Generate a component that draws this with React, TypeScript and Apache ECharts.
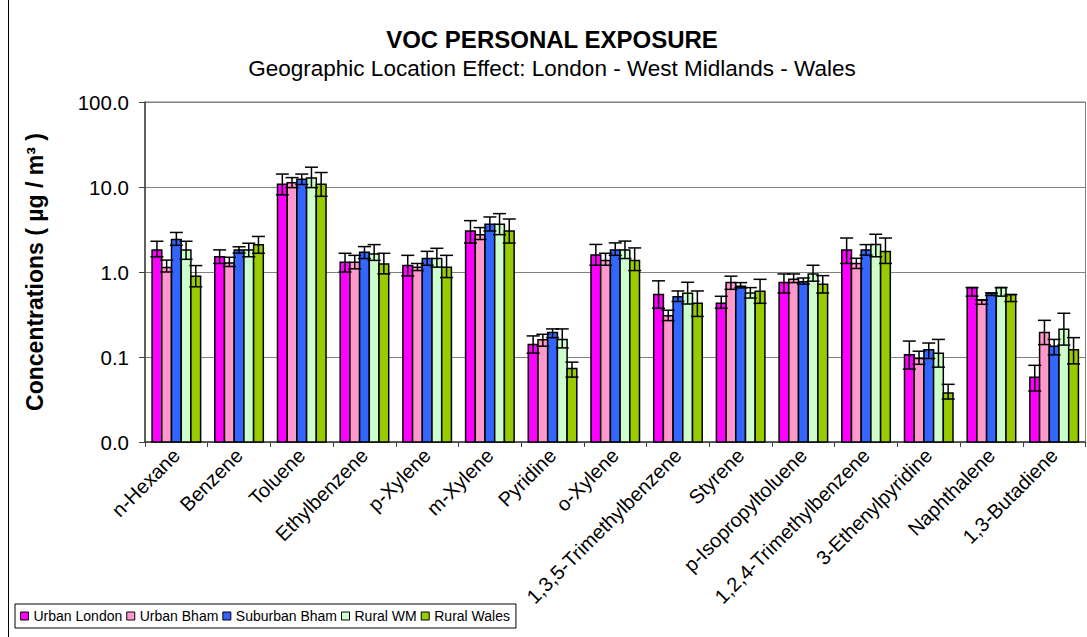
import React, { useEffect, useRef } from 'react';
import * as echarts from 'echarts';

const categories = [
  'n-Hexane', 'Benzene', 'Toluene', 'Ethylbenzene', 'p-Xylene', 'm-Xylene', 'Pyridine', 'o-Xylene',
  '1,3,5-Trimethylbenzene', 'Styrene', 'p-Isopropyltoluene', '1,2,4-Trimethylbenzene',
  '3-Ethenylpyridine', 'Naphthalene', '1,3-Butadiene',
];

const seriesNames = ['Urban London', 'Urban Bham', 'Suburban Bham', 'Rural WM', 'Rural Wales'];
const colors = ['#FF00FF', '#FF99CC', '#3366FF', '#CCFFCC', '#99CC00'];

// mean values (µg/m3)
const urbanLondon = [1.82, 1.51, 10.8, 1.30, 1.19, 3.04, 0.140, 1.58, 0.542, 0.428, 0.75, 1.81, 0.106, 0.655, 0.0577];
const urbanBham = [1.13, 1.28, 11.2, 1.30, 1.14, 2.75, 0.160, 1.37, 0.306, 0.75, 0.82, 1.26, 0.096, 0.469, 0.194];
const suburbanBham = [2.41, 1.82, 12.3, 1.71, 1.44, 3.64, 0.194, 1.81, 0.513, 0.679, 0.77, 1.81, 0.122, 0.566, 0.134];
const ruralWM = [1.82, 1.82, 12.8, 1.63, 1.44, 3.64, 0.161, 1.81, 0.561, 0.566, 0.948, 2.1, 0.111, 0.655, 0.212];
const ruralWales = [0.89, 2.09, 10.8, 1.24, 1.14, 3.04, 0.073, 1.37, 0.428, 0.593, 0.717, 1.74, 0.0377, 0.542, 0.122];

// error bar upper ends
const urbanLondonHi = [2.30, 1.82, 14.2, 1.66, 1.57, 4.02, 0.177, 2.11, 0.787, 0.518, 0.948, 2.51, 0.154, 0.655, 0.0798];
const urbanBhamHi = [1.38, 1.49, 12.9, 1.57, 1.26, 3.33, 0.185, 1.66, 0.355, 0.893, 0.948, 1.45, 0.117, 0.469, 0.27];
const suburbanBhamHi = [2.92, 1.98, 14.2, 1.99, 1.75, 4.44, 0.214, 2.2, 0.598, 0.75, 0.85, 2.1, 0.146, 0.566, 0.161];
const ruralWMHi = [2.30, 2.18, 17.1, 2.10, 1.90, 4.86, 0.214, 2.31, 0.757, 0.655, 1.2, 2.78, 0.161, 0.655, 0.327];
const ruralWalesHi = [1.19, 2.62, 14.8, 1.66, 1.57, 4.2, 0.087, 1.92, 0.598, 0.82, 0.906, 2.51, 0.0477, 0.542, 0.169];

// error bar lower ends
const urbanLondonLo = [1.51, 1.26, 8.1, 1.0, 0.9, 2.19, 0.111, 1.2, 0.374, 0.374, 0.566, 1.26, 0.072, 0.52, 0.0398];
const urbanBhamLo = [1.0, 1.16, 9.84, 1.09, 1.04, 2.41, 0.134, 1.2, 0.268, 0.625, 0.75, 1.1, 0.082, 0.417, 0.14];
const suburbanBhamLo = [2.06, 1.67, 10.7, 1.44, 1.2, 3.04, 0.169, 1.57, 0.45, 0.65, 0.72, 1.58, 0.096, 0.53, 0.106];
const ruralWMLo = [1.41, 1.51, 9.84, 1.37, 1.14, 2.75, 0.128, 1.44, 0.42, 0.494, 0.78, 1.51, 0.076, 0.52, 0.138];
const ruralWalesLo = [0.67, 1.66, 7.77, 0.95, 0.86, 2.19, 0.058, 1.04, 0.3, 0.428, 0.566, 1.26, 0.032, 0.449, 0.083];

const yMin = 0.01;
const yMax = 100;

const titleText = 'VOC PERSONAL EXPOSURE';
const subtitleText = 'Geographic Location Effect: London - West Midlands - Wales';
const yAxisName = 'Concentrations ( µg / m³ )';

const FONT = '"Liberation Sans", Arial, Helvetica, sans-serif';

export default function App() {
  const ref = useRef<HTMLDivElement>(null);

  useEffect(() => {
    const chart = echarts.init(ref.current as HTMLDivElement, null, { renderer: 'svg' });
    const means = [urbanLondon, urbanBham, suburbanBham, ruralWM, ruralWales];
    const his = [urbanLondonHi, urbanBhamHi, suburbanBhamHi, ruralWMHi, ruralWalesHi];
    const los = [urbanLondonLo, urbanBhamLo, suburbanBhamLo, ruralWMLo, ruralWalesLo];
    const n = seriesNames.length;

    const series = seriesNames.map((name, si) => ({
      type: 'custom',
      name,
      itemStyle: { color: colors[si], borderColor: '#000', borderWidth: 1 },
      encode: { x: 0, y: 1 },
      data: categories.map((_c, ci) => [ci, means[si][ci], los[si][ci], his[si][ci]]),
      renderItem: (params: any, api: any) => {
        const ci = api.value(0);
        const v = api.value(1);
        const lo = api.value(2);
        const hi = api.value(3);
        const cs = params.coordSys;
        const band = cs.width / categories.length;
        const bw = (band * 0.774) / n;
        const top = api.coord([ci, v]);
        const base = api.coord([ci, yMin]);
        const cx = top[0] + (si - (n - 1) / 2) * bw;
        const pHi = api.coord([ci, hi])[1];
        const pLo = api.coord([ci, lo])[1];
        const cap = 6.5;
        const ls = { stroke: '#000', lineWidth: 1.5 };
        return {
          type: 'group',
          children: [
            {
              type: 'rect',
              z2: 1,
              shape: { x: cx - bw / 2, y: top[1], width: bw, height: base[1] - top[1] },
              style: { fill: colors[si], stroke: '#000', lineWidth: 1.5 },
            },
            { type: 'line', z2: 10, shape: { x1: cx, y1: pHi, x2: cx, y2: pLo }, style: ls },
            { type: 'line', z2: 10, shape: { x1: cx - cap, y1: pHi, x2: cx + cap, y2: pHi }, style: ls },
            { type: 'line', z2: 10, shape: { x1: cx - cap, y1: pLo, x2: cx + cap, y2: pLo }, style: ls },
          ],
        };
      },
    }));

    chart.setOption({
      animation: false,
      backgroundColor: '#ffffff',
      textStyle: { fontFamily: FONT },
      grid: {
        left: 145,
        right: 1.5,
        top: 102,
        bottom: 195,
        show: true,
        borderColor: '#808080',
        borderWidth: 1,
        backgroundColor: 'transparent',
      },
      xAxis: {
        type: 'category',
        data: categories,
        boundaryGap: true,
        axisLine: { show: true, lineStyle: { color: '#404040', width: 1.5 } },
        axisTick: { show: true, alignWithLabel: false, length: 5, lineStyle: { color: '#404040' } },
        axisLabel: {
          interval: 0,
          rotate: 45,
          margin: 10,
          color: '#000',
          fontFamily: FONT,
          fontSize: 20,
        },
        splitLine: { show: false },
      },
      yAxis: {
        type: 'log',
        logBase: 10,
        min: yMin,
        max: yMax,
        axisLine: { show: true, lineStyle: { color: '#404040', width: 1.5 } },
        axisTick: { show: true, length: 6, lineStyle: { color: '#404040' } },
        axisLabel: {
          color: '#000',
          fontFamily: FONT,
          fontSize: 20.5,
          margin: 16,
          formatter: (val: number) => Number(val).toFixed(1),
        },
        splitLine: { show: true, lineStyle: { color: '#808080', width: 1 } },
        name: yAxisName,
        nameLocation: 'middle',
        nameRotate: 90,
        nameGap: 99,
        nameTextStyle: { color: '#000', fontFamily: FONT, fontSize: 23, fontWeight: 'bold' },
      },
      legend: {
        data: seriesNames,
        left: 15,
        top: 604,
        orient: 'horizontal',
        icon: 'rect',
        itemWidth: 8,
        itemHeight: 8,
        itemGap: 4,
        borderColor: '#000',
        borderWidth: 1,
        backgroundColor: '#fff',
        padding: [5, 6, 5, 5],
        textStyle: { color: '#000', fontFamily: FONT, fontSize: 14 },
        itemStyle: { borderColor: '#000', borderWidth: 1 },
        selectedMode: false,
      },
      graphic: [
        {
          type: 'line',
          shape: { x1: 8.5, y1: 0, x2: 8.5, y2: 637 },
          style: { stroke: '#000', lineWidth: 1 },
        },
        {
          type: 'text',
          x: 552,
          y: 39,
          style: {
            text: titleText,
            fill: '#000',
            font: `bold 24px ${FONT}`,
            textAlign: 'center',
            textVerticalAlign: 'middle',
          },
        },
        {
          type: 'text',
          x: 552,
          y: 68,
          style: {
            text: subtitleText,
            fill: '#000',
            font: `22.5px ${FONT}`,
            textAlign: 'center',
            textVerticalAlign: 'middle',
          },
        },
      ],
      series,
    });

    return () => {
      chart.dispose();
    };
  }, []);

  return (
    <div
      ref={ref}
      style={{ position: 'absolute', left: 0, top: 0, width: 1087, height: 637, background: '#fff' }}
    />
  );
}
